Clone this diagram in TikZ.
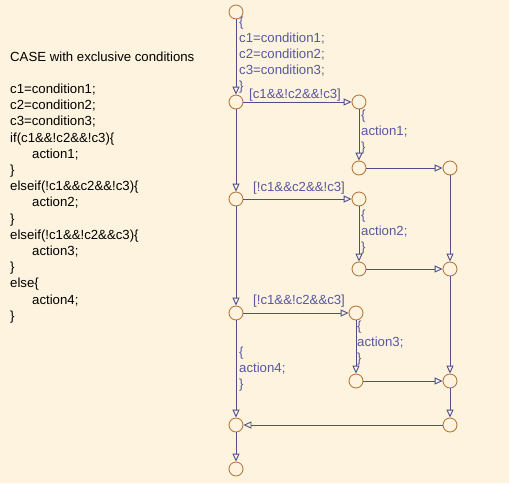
\documentclass[tikz,border=0pt]{standalone}
\usepackage{fontspec}
\setmainfont{Liberation Sans}
\usetikzlibrary{arrows.meta,positioning}
\definecolor{bgcream}{RGB}{253,243,222}
\definecolor{wireblue}{RGB}{78,78,140}
\definecolor{junctionbrown}{RGB}{178,110,46}
\definecolor{labelblue}{RGB}{88,88,160}

\begin{document}
\begin{tikzpicture}[x=1pt,y=-1pt]
		\tikzstyle{junction}=[circle, draw=junctionbrown, fill=bgcream, minimum size=14pt, inner sep=0pt, line width=0.8pt]
		\tikzstyle{wire}=[draw=wireblue, line width=0.9pt, -{Triangle[open,length=8pt,width=7pt]}]
		\tikzstyle{lbl}=[font=\fontsize{13.2}{16}\selectfont, text=labelblue, align=left, inner sep=0pt, anchor=west]
		\tikzstyle{codetext}=[font=\fontsize{13.2}{16.2}\selectfont, text=black, align=left, inner sep=0pt, anchor=west]
		\fill [bgcream] (0,0) rectangle (509,483);
		% source code on the left
		\node [codetext] (title) at (10,57) {CASE with exclusive conditions};
		\node [codetext] (code) at (10,203.5) {c1=condition1;\\ c2=condition2;\\ c3=condition3;\\ if(c1\&\&!c2\&\&!c3)\{\\ \hspace*{22pt}action1;\\ \}\\ elseif(!c1\&\&c2\&\&!c3)\{\\ \hspace*{22pt}action2;\\ \}\\ elseif(!c1\&\&!c2\&\&c3)\{\\ \hspace*{22pt}action3;\\ \}\\ else\{\\ \hspace*{22pt}action4;\\ \}};
		% junctions
		\node [junction] (start) at (236,12) {};
		\node [junction] (j1) at (236,102) {};
		\node [junction] (j2) at (236,199) {};
		\node [junction] (j3) at (236,313) {};
		\node [junction] (merge) at (236,425) {};
		\node [junction] (stop) at (236,469) {};
		\node [junction] (a1) at (359,102) {};
		\node [junction] (a1end) at (359,168) {};
		\node [junction] (a2) at (359,199) {};
		\node [junction] (a2end) at (359,269) {};
		\node [junction] (a3) at (356,313) {};
		\node [junction] (a3end) at (356,381) {};
		\node [junction] (r1) at (450,168) {};
		\node [junction] (r2) at (450,269) {};
		\node [junction] (r3) at (450,381) {};
		\node [junction] (r4) at (450,425) {};
		% transitions
		\draw [wire] (start) -- (j1);
		\draw [wire] (j1) -- (a1);
		\draw [wire] (j1) -- (j2);
		\draw [wire] (a1) -- (a1end);
		\draw [wire] (a1end) -- (r1);
		\draw [wire] (j2) -- (a2);
		\draw [wire] (j2) -- (j3);
		\draw [wire] (a2) -- (a2end);
		\draw [wire] (a2end) -- (r2);
		\draw [wire] (r1) -- (r2);
		\draw [wire] (j3) -- (a3);
		\draw [wire] (j3) -- (merge);
		\draw [wire] (a3) -- (a3end);
		\draw [wire] (a3end) -- (r3);
		\draw [wire] (r2) -- (r3);
		\draw [wire] (r3) -- (r4);
		\draw [wire] (r4) -- (merge);
		\draw [wire] (merge) -- (stop);
		% labels
		\node [lbl] (init) at (239,55.5) {\{\\ c1=condition1;\\ c2=condition2;\\ c3=condition3;\\ \}};
		\node [lbl] (cond1) at (249,95) {[c1\&\&!c2\&\&!c3]};
		\node [lbl] (cond2) at (253,188) {[!c1\&\&c2\&\&!c3]};
		\node [lbl] (cond3) at (253,301) {[!c1\&\&!c2\&\&c3]};
		\node [lbl] (act1) at (361,132.5) {\{\\ action1;\\ \}};
		\node [lbl] (act2) at (361,232) {\{\\ action2;\\ \}};
		\node [lbl] (act3) at (357,343) {\{\\ action3;\\ \}};
		\node [lbl] (act4) at (239,369.5) {\{\\ action4;\\ \}};
	\end{tikzpicture}
\end{document}
